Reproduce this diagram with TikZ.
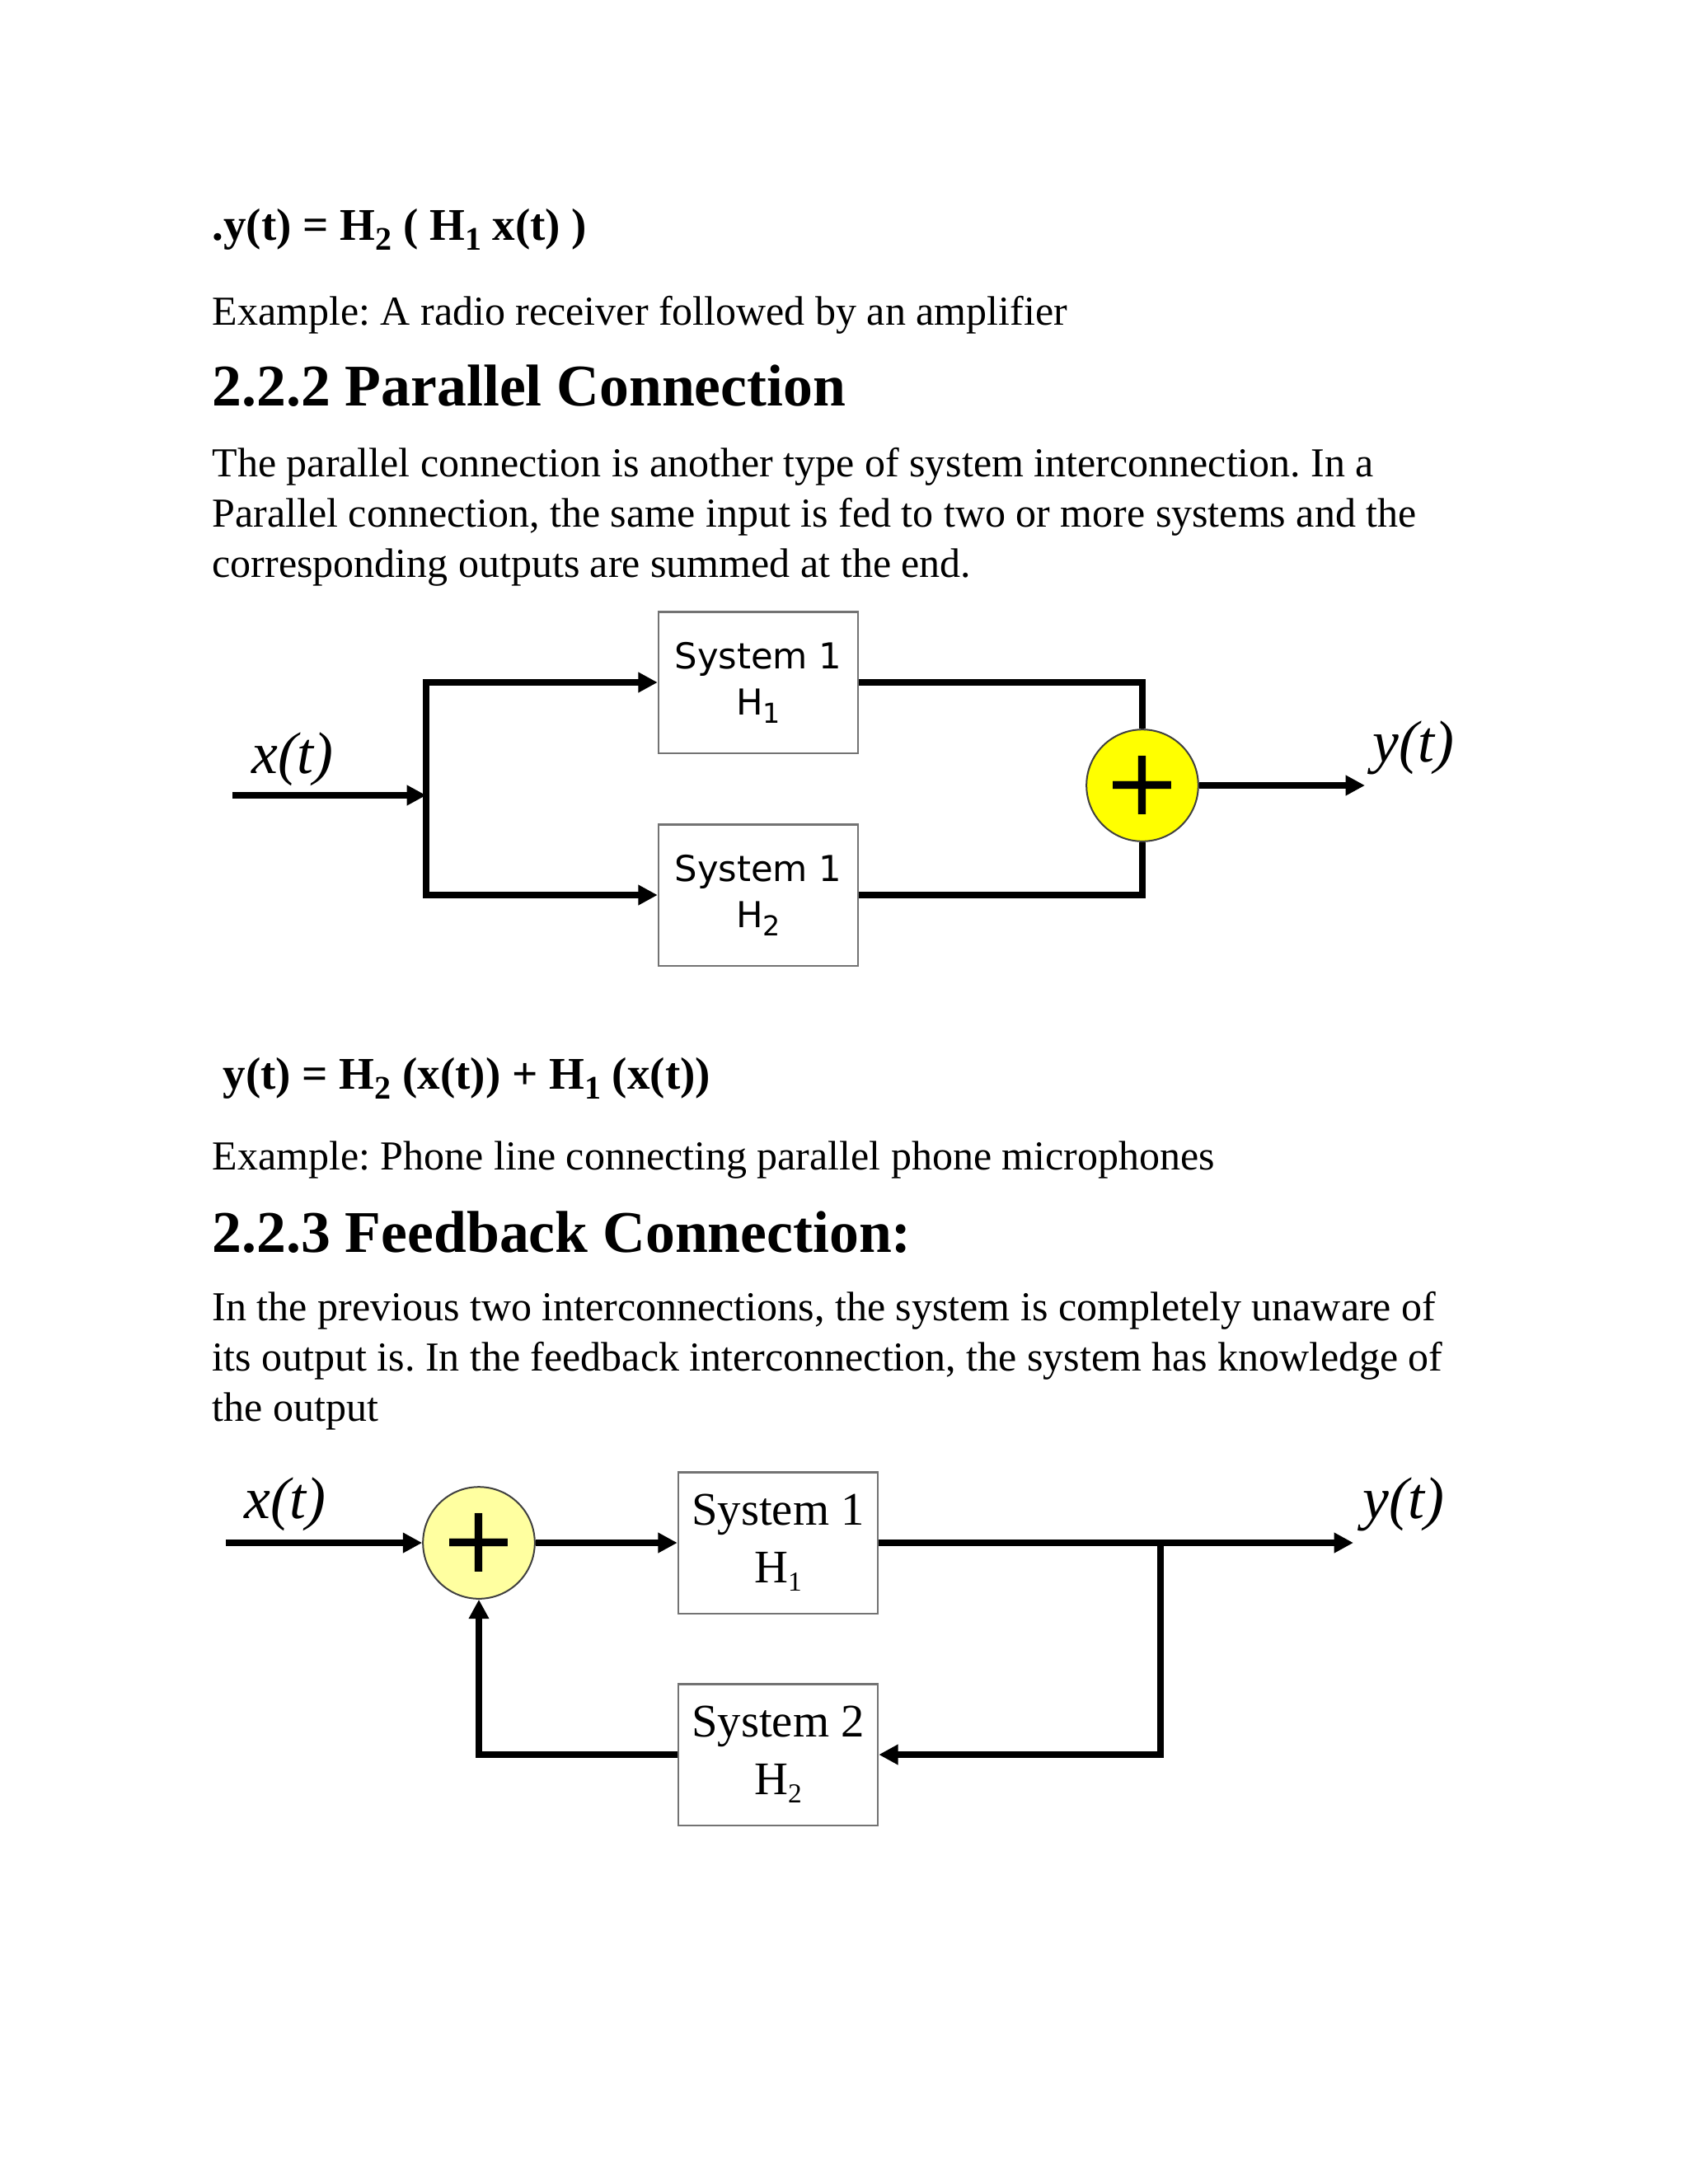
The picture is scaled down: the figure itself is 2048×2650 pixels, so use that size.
\documentclass[tikz,border=0pt]{standalone}
\usepackage{fontspec}
\setmainfont{Liberation Serif}
\newfontfamily\diagsans{DejaVu Sans}
\usepackage{tikz}
\usetikzlibrary{arrows.meta,positioning,calc}

\definecolor{sumyellow}{RGB}{255,255,0}
\definecolor{paleyellow}{RGB}{255,255,160}
\newcommand{\lowidx}[1]{\raisebox{-0.5ex}{\fontsize{12}{12}\selectfont #1}}
\newcommand{\boxidx}[1]{\raisebox{-0.4ex}{\fontsize{10}{10}\selectfont #1}}
\frenchspacing

\begin{document}
\begin{tikzpicture}[
    x=0.010542cm, y=-0.010542cm,
    body/.style={anchor=base west, inner sep=0pt, align=left, font=\fontsize{15}{18.2}\selectfont},
    formula/.style={anchor=base west, inner sep=0pt, font=\fontsize{16.5}{18}\selectfont\bfseries},
    heading/.style={anchor=base west, inner sep=0pt, font=\fontsize{21.5}{24}\selectfont\bfseries},
    sysbox/.style={draw=black!55, line width=0.8pt, minimum width=2.55cm, minimum height=1.81cm, inner sep=0pt, align=center},
    sumnode/.style={circle, draw=black!75, line width=0.6pt, minimum size=1.43cm, inner sep=0pt, font=\diagsans\fontsize{34}{34}\selectfont},
    siglabel/.style={inner sep=0pt, font=\fontsize{21.5}{22}\selectfont\itshape},
    arr/.style={-{Triangle[length=7pt, width=7pt]}, line width=2.6pt},
    wire/.style={line width=2.6pt}
]
\useasboundingbox (0,0) rectangle (2048,2650);

% text above
\node[formula] (eqser) at (257,291) {.y(t) = H\lowidx{2} ( H\lowidx{1} x(t) )};
\node[body] (exser) at (257,394) {Example: A radio receiver followed by an amplifier};
\node[heading] (hpar) at (257,492) {2.2.2 Parallel Connection};
\node[body] (ppar) at (257,700) {The parallel connection is another type of system interconnection. In a\\
Parallel connection, the same input is fed to two or more systems and the\\
corresponding outputs are summed at the end.};

% parallel connection
\node[sysbox, font=\diagsans\fontsize{13}{17}\selectfont] (pa) at (920,828) {System 1\\H\boxidx{1}};
\node[sysbox, font=\diagsans\fontsize{13}{17}\selectfont] (pb) at (920,1086) {System 1\\H\boxidx{2}};
\node[sumnode, fill=sumyellow] (psum) at (1386,953) {+};
\node[siglabel] (px) at (355,921) {x(t)};
\node[siglabel] (py) at (1715,907) {y(t)};
\coordinate (pin) at (282,965);
\coordinate (psplit) at (517,965);
\coordinate (pout) at (1656,953);

\draw[arr] (pin) -- (psplit);
\draw[arr] (psplit) |- (pa.west);
\draw[arr] (psplit) |- (pb.west);
\draw[wire] (pa.east) -| (psum.north);
\draw[wire] (pb.east) -| (psum.south);
\draw[arr] (psum.east) -- (pout);

% text between
\node[formula] (eqpar) at (270,1321) {y(t) = H\lowidx{2} (x(t)) + H\lowidx{1} (x(t))};
\node[body] (expar) at (257,1419) {Example: Phone line connecting parallel phone microphones};
\node[heading] (hfb) at (257,1519) {2.2.3 Feedback Connection:};
\node[body] (pfb) at (257,1724) {In the previous two interconnections, the system is completely unaware of\\
its output is. In the feedback interconnection, the system has knowledge of\\
the output};

% feedback connection
\node[sumnode, fill=paleyellow] (fsum) at (581,1872) {+};
\node[sysbox, font=\fontsize{17}{21}\selectfont] (fa) at (944,1872) {System 1\\H\boxidx{1}};
\node[sysbox, font=\fontsize{17}{21}\selectfont] (fb) at (944,2129) {System 2\\H\boxidx{2}};
\node[siglabel] (fx) at (346,1825) {x(t)};
\node[siglabel] (fy) at (1703,1825) {y(t)};
\coordinate (fin) at (274,1872);
\coordinate (fout) at (1642,1872);
\coordinate (ftap) at (1408,1872);

\draw[arr] (fin) -- (fsum.west);
\draw[arr] (fsum.east) -- (fa.west);
\draw[arr] (fa.east) -- (fout);
\draw[arr] (ftap) |- (fb.east);
\draw[arr] (fb.west) -| (fsum.south);
\end{tikzpicture}
\end{document}
